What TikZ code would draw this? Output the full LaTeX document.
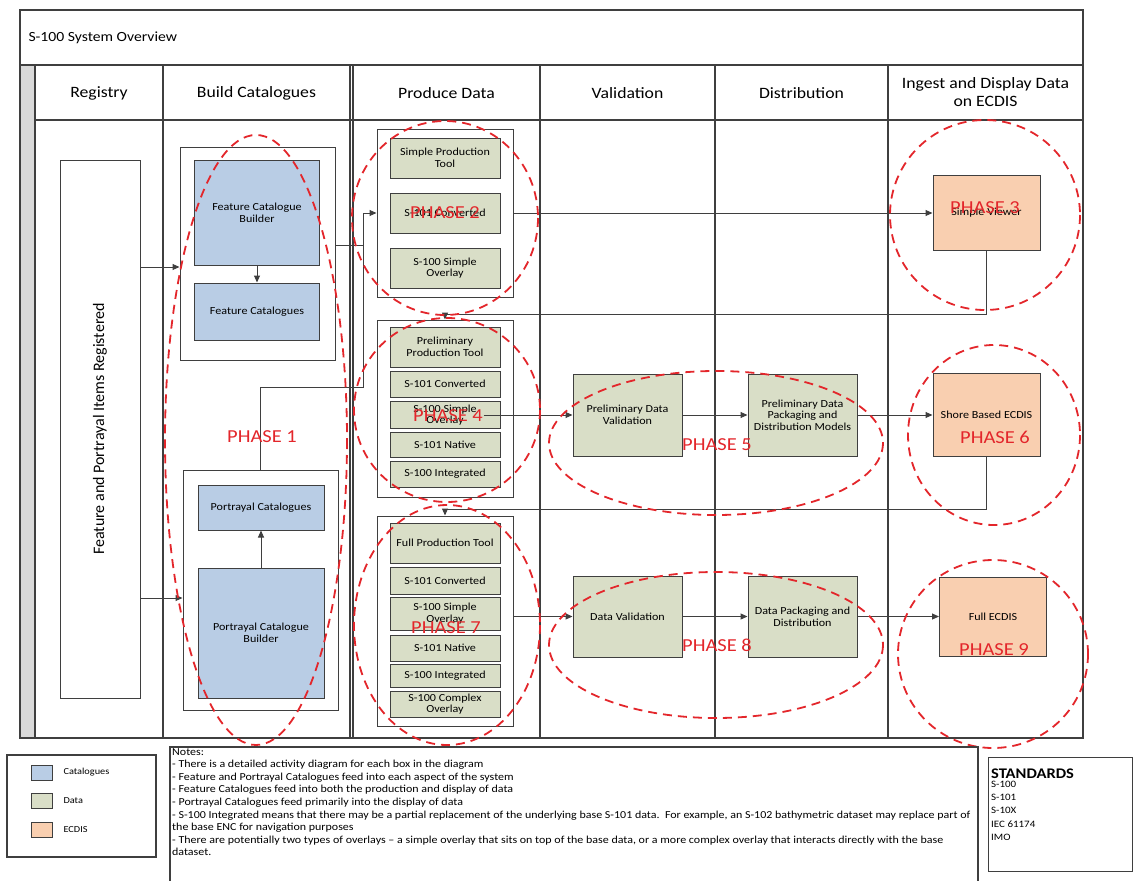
\documentclass[tikz,border=0pt]{standalone}
\usepackage{fontspec}
\setmainfont{Carlito}[FakeStretch=1.12]
\newfontfamily\regfont{Carlito}
\usetikzlibrary{arrows.meta,calc}
\definecolor{linec}{HTML}{3F3F3F}
\definecolor{catc}{HTML}{B9CDE5}
\definecolor{datac}{HTML}{D9DEC7}
\definecolor{ecdc}{HTML}{F9CFB0}
\definecolor{stripc}{HTML}{D9D9D9}
\definecolor{phasec}{HTML}{E3262B}
\begin{document}
\begin{tikzpicture}[x=1pt,y=-1pt,
  frameline/.style={draw=linec, line width=1.1pt},
  cont/.style={draw=linec, line width=1pt, fill=white, inner sep=0pt},
  boxbase/.style={draw=linec, line width=1pt, align=center, inner sep=1pt, font=\fontsize{10.8}{11.6}\selectfont},
  catbox/.style={boxbase, fill=catc},
  databox/.style={boxbase, fill=datac},
  ecdbox/.style={boxbase, fill=ecdc},
  conn/.style={draw=linec, line width=1pt},
  arr/.style={conn, -{Triangle[length=7pt,width=6pt]}},
  phase/.style={draw=phasec, line width=1.8pt, dash pattern=on 9pt off 6pt},
  phasetxt/.style={text=phasec, font=\fontsize{18.3}{20}\selectfont, inner sep=0pt},
  hdr/.style={font=\fontsize{15.8}{18}\selectfont, align=center},
]
\useasboundingbox (0,0) rectangle (1134,880);

% ---- frame / swimlanes ----
\draw[frameline] (20,10) rectangle (1083,738);
\draw[frameline] (20,65) -- (1083,65);
\draw[frameline, fill=stripc] (20,65) rectangle (35,738);
\draw[frameline] (35,120) -- (1083,120);
\foreach \xx in {163,350,353,540,715,888} \draw[frameline] (\xx,65) -- (\xx,738);

\node[anchor=west, font=\fontsize{14}{17}\selectfont] (title) at (25,38) {S-100 System Overview};
\node[hdr] (h1) at (99,93) {Registry};
\node[hdr] (h2) at (256.5,93) {Build Catalogues};
\node[hdr] (h3) at (446.5,93) {Produce Data};
\node[hdr] (h4) at (627.5,93) {Validation};
\node[hdr] (h5) at (801.5,93) {Distribution};
\node[hdr] (h6) at (985.5,92) {Ingest and Display Data\\on ECDIS};

% ---- registry ----
\node[cont, minimum width=80, minimum height=538] (reg) at (100,429) {};
\node[rotate=90, font=\regfont\fontsize{16}{18}\selectfont] (regtxt) at (reg.center) {Feature and Portrayal Items Registered};

% ---- build catalogues ----
\node[cont, minimum width=155, minimum height=213] (fcont) at (257.5,253.5) {};
\node[catbox, minimum width=125, minimum height=105] (fcb) at (257,212.5) {Feature Catalogue\\Builder};
\node[catbox, minimum width=125, minimum height=57] (fcat) at (257,311.5) {Feature Catalogues};
\node[cont, minimum width=155, minimum height=240] (pcont) at (260.5,590) {};
\node[catbox, minimum width=126, minimum height=45] (pcat) at (261,507.5) {Portrayal Catalogues};
\node[catbox, minimum width=126, minimum height=130] (pcb) at (261,633) {Portrayal Catalogue\\Builder};

% ---- produce data ----
\node[cont, minimum width=136, minimum height=168] (p1cont) at (445,213) {};
\node[databox, minimum width=110, minimum height=40] (spt) at (445,158) {Simple Production\\Tool};
\node[databox, minimum width=110, minimum height=40] (c1) at (445,213) {S-101 Converted};
\node[databox, minimum width=110, minimum height=40] (so1) at (445,268) {S-100 Simple\\Overlay};

\node[cont, minimum width=136, minimum height=177] (p2cont) at (445,408.5) {};
\node[databox, minimum width=110, minimum height=40] (ppt) at (445,347) {Preliminary\\Production Tool};
\node[databox, minimum width=110, minimum height=26] (c2) at (445,384) {S-101 Converted};
\node[databox, minimum width=110, minimum height=27] (so2) at (445,415) {S-100 Simple\\Overlay};
\node[databox, minimum width=110, minimum height=25] (n2) at (445,444.5) {S-101 Native};
\node[databox, minimum width=110, minimum height=26] (i2) at (445,474) {S-100 Integrated};

\node[cont, minimum width=136, minimum height=210] (p3cont) at (445,621) {};
\node[databox, minimum width=110, minimum height=40] (fpt) at (445,543) {Full Production Tool};
\node[databox, minimum width=110, minimum height=27] (c3) at (445,580.5) {S-101 Converted};
\node[databox, minimum width=110, minimum height=33] (so3) at (445,613.5) {S-100 Simple\\Overlay};
\node[databox, minimum width=110, minimum height=26] (n3) at (445,648) {S-101 Native};
\node[databox, minimum width=110, minimum height=23] (i3) at (445,675.5) {S-100 Integrated};
\node[databox, minimum width=110, minimum height=26] (co3) at (445,704) {S-100 Complex\\Overlay};

% ---- validation / distribution ----
\node[databox, minimum width=109, minimum height=82] (pdv) at (627.5,415) {Preliminary Data\\Validation};
\node[databox, minimum width=109, minimum height=82] (pdp) at (802.5,415) {Preliminary Data\\Packaging and\\Distribution Models};
\node[databox, minimum width=109, minimum height=81] (dv) at (627.5,616.5) {Data Validation};
\node[databox, minimum width=109, minimum height=81] (dpd) at (802.5,616.5) {Data Packaging and\\Distribution};

% ---- ECDIS ----
\node[ecdbox, minimum width=107, minimum height=75] (sv) at (986.5,213) {Simple Viewer};
\node[ecdbox, minimum width=107, minimum height=83] (sbe) at (986.5,415) {Shore Based ECDIS};
\node[ecdbox, minimum width=107, minimum height=79] (fe) at (993,616.5) {Full ECDIS};

% ---- connectors ----
\coordinate (fjoin) at (363,245);
\coordinate (bus) at (363,387);
\draw[arr] (reg.east |- 0,267) -- (fcont.west |- 0,267);
\draw[arr] (reg.east |- 0,598) -- (pcont.west |- 0,598);
\draw[arr] (fcb.south) -- (fcat.north);
\draw[arr] (pcb.north) -- (pcat.south);
\draw[conn] (fcont.east |- fjoin) -- (fjoin);
\draw[arr] (pcont.north) |- (bus) |- (p1cont.west);
\draw[arr] (p1cont.east) -- (sv.west);
\draw[arr] (sv.south) -- (sv.south |- 0,314) -| (p2cont.north);
\draw[arr] ([xshift=-17pt]so2.east) -- (pdv.west);
\draw[arr] (pdv) -- (pdp);
\draw[arr] (pdp) -- (sbe);
\draw[arr] (sbe.south) -- (sbe.south |- 0,509) -| (p3cont.north);
\draw[arr] (p3cont.east |- dv.west) -- (dv.west);
\draw[arr] (dv) -- (dpd);
\draw[arr] (dpd) -- (fe);

% ---- phases ----
\draw[phase] (256,440) ellipse [x radius=91, y radius=305];
\draw[phase] (445,218) ellipse [x radius=93, y radius=97];
\draw[phase] (985,215) ellipse [x radius=95, y radius=95];
\draw[phase] (447,410) ellipse [x radius=93, y radius=92];
\draw[phase] (716,443) ellipse [x radius=167, y radius=72];
\draw[phase] (994,435) ellipse [x radius=86, y radius=90];
\draw[phase] (447,625) ellipse [x radius=93, y radius=120];
\draw[phase] (716,645) ellipse [x radius=167, y radius=73];
\draw[phase] (993,654) ellipse [x radius=95, y radius=94];

\node[phasetxt] (ph1) at (262,437) {PHASE 1};
\node[phasetxt] (ph2) at (445,213) {PHASE 2};
\node[phasetxt] (ph3) at (985,208) {PHASE 3};
\node[phasetxt] (ph4) at (448,416) {PHASE 4};
\node[phasetxt] (ph5) at (717,445) {PHASE 5};
\node[phasetxt] (ph6) at (995,437) {PHASE 6};
\node[phasetxt] (ph7) at (446,628) {PHASE 7};
\node[phasetxt] (ph8) at (717,645) {PHASE 8};
\node[phasetxt] (ph9) at (994,650) {PHASE 9};

% ---- legend ----
\node[cont, line width=1.1pt, minimum width=149, minimum height=102] (legend) at (81.5,806) {};
\node[catbox, minimum width=21, minimum height=15, inner sep=0pt] (lg1) at (41.5,772.5) {};
\node[databox, minimum width=21, minimum height=15, inner sep=0pt] (lg2) at (41.5,801) {};
\node[ecdbox, minimum width=21, minimum height=15, inner sep=0pt] (lg3) at (41.5,830) {};
\node[anchor=west, font=\fontsize{9.2}{11}\selectfont] (lgt1) at (60,772.5) {Catalogues};
\node[anchor=west, font=\fontsize{9.2}{11}\selectfont] (lgt2) at (60,801) {Data};
\node[anchor=west, font=\fontsize{9.2}{11}\selectfont] (lgt3) at (60,830) {ECDIS};

% ---- notes ----
\draw[frameline] (170,882) -- (170,747) -- (978,747) -- (978,882);
\node[anchor=north west, align=left, inner sep=0pt, font=\fontsize{10.7}{12.6}\selectfont] (notes) at (172,748) {Notes:\\
- There is a detailed activity diagram for each box in the diagram\\
- Feature and Portrayal Catalogues feed into each aspect of the system\\
- Feature Catalogues feed into both the production and display of data\\
- Portrayal Catalogues feed primarily into the display of data\\
- S-100 Integrated means that there may be a partial replacement of the underlying base S-101 data.\ \ For example, an S-102 bathymetric dataset may replace part of\\
the base ENC for navigation purposes\\
- There are potentially two types of overlays -- a simple overlay that sits on top of the base data, or a more complex overlay that interacts directly with the base\\
dataset.};

% ---- standards ----
\node[cont, line width=1.1pt, minimum width=144, minimum height=114, anchor=north west] (std) at (988,757) {};
\node[anchor=west, inner sep=0pt, font=\bfseries\fontsize{14.7}{17}\selectfont] (stdh) at (991,774) {STANDARDS};
\node[anchor=north west, align=left, inner sep=0pt, font=\fontsize{9.8}{13.2}\selectfont] (stdl) at (991,781) {S-100\\S-101\\S-10X\\IEC 61174\\IMO};
\end{tikzpicture}
\end{document}
